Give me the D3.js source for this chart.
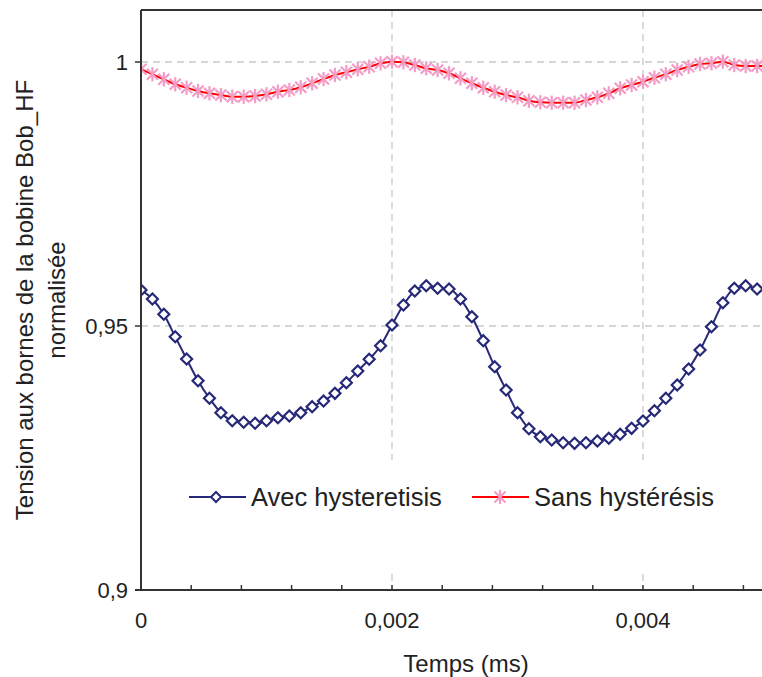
<!DOCTYPE html>
<html>
<head>
<meta charset="utf-8">
<script src="https://cdn.jsdelivr.net/npm/d3@7"></script>
<style>
  html, body { margin: 0; padding: 0; background: #fff; }
  svg { display: block; font-family: "Liberation Sans", Arial, sans-serif; }
</style>
</head>
<body>
<div id="chart"></div>
<script>
// ---- data ----
const seriesNames = ["Avec hysteretisis", "Sans hystérésis"];
const timeStepMs = 0.005 / 55;           // sampling step of the simulation
const avecHysteretisis = [
  0.95682, 0.95511, 0.95222, 0.94797, 0.94375, 0.93964, 0.93631, 0.93358,
  0.93206, 0.93176, 0.93157, 0.93206, 0.93263, 0.93295, 0.93358, 0.93472,
  0.93580, 0.93725, 0.93926, 0.94148, 0.94369, 0.94627, 0.95019, 0.95398,
  0.95663, 0.95763, 0.95714, 0.95701, 0.95511, 0.95176, 0.94722, 0.94229,
  0.93788, 0.93358, 0.93055, 0.92903, 0.92841, 0.92790, 0.92778, 0.92790,
  0.92822, 0.92873, 0.92949, 0.93062, 0.93201, 0.93396, 0.93631, 0.93883,
  0.94186, 0.94545, 0.94987, 0.95441, 0.95714, 0.95763, 0.95701, 0.95650
];
const sansHysteresis = [
  0.99862, 0.99767, 0.99672, 0.99578, 0.99513, 0.99451, 0.99407, 0.99375,
  0.99343, 0.99343, 0.99356, 0.99388, 0.99438, 0.99470, 0.99521, 0.99597,
  0.99678, 0.99754, 0.99805, 0.99862, 0.99911, 0.99975, 1.00006, 0.99994,
  0.99943, 0.99881, 0.99848, 0.99786, 0.99691, 0.99597, 0.99513, 0.99438,
  0.99375, 0.99331, 0.99267, 0.99237, 0.99229, 0.99229, 0.99229, 0.99280,
  0.99331, 0.99407, 0.99502, 0.99564, 0.99627, 0.99703, 0.99767, 0.99848,
  0.99911, 0.99962, 0.99975, 1.00006, 0.99943, 0.99924, 0.99924, 0.99920
];
const times = d3.range(avecHysteretisis.length).map(i => i * timeStepMs);
const xMajorTicks = [0, 0.002, 0.004];
const xMinorTicks = d3.range(0, 0.00501, 0.0004);
const yTicks = [0.9, 0.95, 1];
const xTitle = "Temps (ms)";
const yTitleLines = ["Tension aux bornes de la bobine Bob_HF", "normalisée"];

// ---- layout ----
const W = 762, H = 677;
const plot = { left: 141, top: 9.2, right: 768.5, bottom: 590 };
const navy = "#262878", red = "#ff0000", pink = "#f39cc6", axisCol = "#333", gridCol = "#c9c9c9";

const svg = d3.select("#chart").append("svg").attr("width", W).attr("height", H);

const x = d3.scaleLinear().domain([0, 0.005]).range([plot.left, plot.right]);
const y = d3.scaleLinear().domain([0.9, 1.01]).range([plot.bottom, plot.top]);
const fmt = v => (v === 0 ? "0" : (+v.toFixed(4)).toString().replace(".", ","));

// grid
svg.append("g").selectAll("line").data(yTicks.filter(v => v > 0.9)).join("line")
  .attr("x1", plot.left).attr("x2", plot.right)
  .attr("y1", d => y(d)).attr("y2", d => y(d))
  .attr("stroke", gridCol).attr("stroke-width", 1.3).attr("stroke-dasharray", "7,5");
svg.append("g").selectAll("line").data(xMajorTicks.filter(v => v > 0)).join("line")
  .attr("x1", d => x(d)).attr("x2", d => x(d))
  .attr("y1", 10).attr("y2", plot.bottom)
  .attr("stroke", gridCol).attr("stroke-width", 1.3).attr("stroke-dasharray", "7,5");

// clip
svg.append("clipPath").attr("id", "clip").append("rect")
  .attr("x", plot.left).attr("y", 0).attr("width", plot.right - plot.left + 10).attr("height", plot.bottom);

const g = svg.append("g").attr("clip-path", "url(#clip)");
const line = d3.line().x((d, i) => x(times[i])).y(d => y(d)).curve(d3.curveMonotoneX);

// Sans hysteresis
g.append("path").datum(sansHysteresis).attr("d", line)
  .attr("fill", "none").attr("stroke", red).attr("stroke-width", 2);
function star(sel, cx, cy, r) {
  const gg = sel.append("g").attr("transform", `translate(${cx},${cy})`)
    .attr("stroke", pink).attr("stroke-width", 2.2);
  gg.append("line").attr("x1", -r).attr("y1", -r).attr("x2", r).attr("y2", r);
  gg.append("line").attr("x1", -r).attr("y1", r).attr("x2", r).attr("y2", -r);
  gg.append("line").attr("x1", 0).attr("y1", -r * 1.3).attr("x2", 0).attr("y2", r * 1.3);
}
sansHysteresis.forEach((v, i) => star(g, x(times[i]), y(v), 5.5));

// Avec hysteretisis
g.append("path").datum(avecHysteretisis).attr("d", line)
  .attr("fill", "none").attr("stroke", navy).attr("stroke-width", 2);
const diamond = r => `M0,${-r}L${r},0L0,${r}L${-r},0Z`;
g.append("g").selectAll("path").data(avecHysteretisis).join("path")
  .attr("transform", (d, i) => `translate(${x(times[i])},${y(d)})`)
  .attr("d", diamond(5.5))
  .attr("fill", "#fff").attr("stroke", navy).attr("stroke-width", 2.2);

// legend (white box covering grid)
const leg = svg.append("g");
leg.append("rect").attr("x", 178).attr("y", 460).attr("width", 556).attr("height", 112).attr("fill", "#fff");
const legItems = [
  { name: seriesNames[0], x0: 189, col: navy, mark: "diamond" },
  { name: seriesNames[1], x0: 472, col: red, mark: "star" }
];
const ly = 497;
legItems.forEach(it => {
  leg.append("line").attr("x1", it.x0).attr("x2", it.x0 + 57).attr("y1", ly).attr("y2", ly)
    .attr("stroke", it.col).attr("stroke-width", 2);
  if (it.mark === "diamond") {
    leg.append("path").attr("transform", `translate(${it.x0 + 27},${ly})`).attr("d", diamond(5))
      .attr("fill", "#fff").attr("stroke", navy).attr("stroke-width", 2);
  } else {
    star(leg, it.x0 + 28, ly, 5.5);
  }
  leg.append("text").attr("x", it.x0 + 62).attr("y", ly).attr("dy", "0.36em")
    .attr("font-size", 25.5).attr("fill", "#222").text(it.name);
});

// axes lines
svg.append("line").attr("x1", plot.left).attr("x2", plot.left).attr("y1", 10).attr("y2", plot.bottom)
  .attr("stroke", axisCol).attr("stroke-width", 2);
svg.append("line").attr("x1", plot.left).attr("x2", W).attr("y1", 10).attr("y2", 10)
  .attr("stroke", axisCol).attr("stroke-width", 2);
svg.append("line").attr("x1", plot.left - 6).attr("x2", W).attr("y1", plot.bottom).attr("y2", plot.bottom)
  .attr("stroke", axisCol).attr("stroke-width", 2);

// y ticks
svg.append("g").selectAll("line").data(yTicks).join("line")
  .attr("x1", plot.left - 6).attr("x2", plot.left).attr("y1", d => y(d)).attr("y2", d => y(d))
  .attr("stroke", axisCol).attr("stroke-width", 1.5);
svg.append("g").selectAll("text").data(yTicks).join("text")
  .attr("x", plot.left - 13).attr("y", d => y(d)).attr("dy", "0.36em")
  .attr("text-anchor", "end").attr("font-size", 22).attr("fill", "#222").text(fmt);

// x ticks
svg.append("g").selectAll("line").data(xMinorTicks).join("line")
  .attr("x1", d => x(d)).attr("x2", d => x(d)).attr("y1", plot.bottom).attr("y2", plot.bottom - 5)
  .attr("stroke", axisCol).attr("stroke-width", 1.5);
svg.append("g").selectAll("text").data(xMajorTicks).join("text")
  .attr("x", d => x(d)).attr("y", 620).attr("dy", "0.36em")
  .attr("text-anchor", "middle").attr("font-size", 22).attr("fill", "#222").text(fmt);

// titles
svg.append("text").attr("x", 466).attr("y", 663).attr("dy", "0.36em")
  .attr("text-anchor", "middle").attr("font-size", 24).attr("fill", "#222").text(xTitle);
const yt = svg.append("text").attr("transform", "translate(0,300) rotate(-90)")
  .attr("text-anchor", "middle").attr("font-size", 24).attr("fill", "#222");
yt.append("tspan").attr("x", 0).attr("y", 33).text(yTitleLines[0]);
yt.append("tspan").attr("x", 0).attr("y", 65).text(yTitleLines[1]);
</script>
</body>
</html>
